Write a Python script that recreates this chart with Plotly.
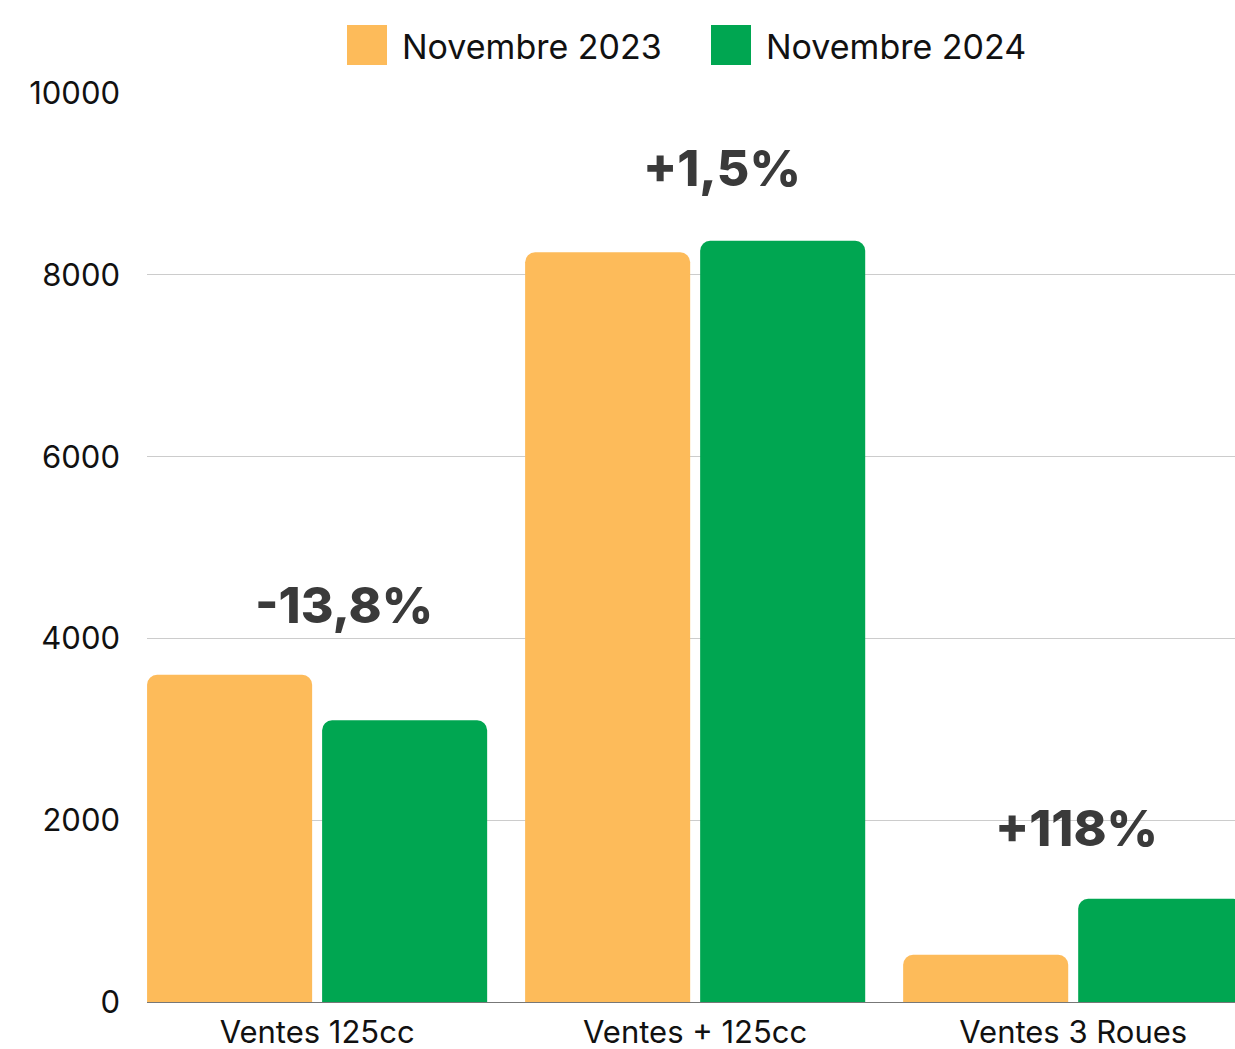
import plotly.graph_objects as go

categories = ["Ventes 125cc", "Ventes + 125cc", "Ventes 3 Roues"]
series_names = ["Novembre 2023", "Novembre 2024"]
values_2023 = [3600, 8250, 520]
values_2024 = [3100, 8375, 1135]
changes = ["-13,8%", "+1,5%", "+118%"]
change_x = [0.07, 0.07, 0.01]
change_y = [4370, 9175, 1915]
colors = ["#FDBB5A", "#00A651"]
y_ticks = [0, 2000, 4000, 6000, 8000, 10000]
y_tick_labels = ["0", "2000", "4000", "6000", "8000", "10000"]

FONT = "Inter"

fig = go.Figure()
for name, vals, col in zip(series_names, [values_2023, values_2024], colors):
    fig.add_trace(go.Bar(x=list(range(len(categories))), y=vals, name=name,
                         marker=dict(color=col, cornerradius=10, line=dict(width=0)),
                         showlegend=False))

for i, (t, dx, yv) in enumerate(zip(changes, change_x, change_y)):
    fig.add_annotation(x=i + dx, y=yv, text=t, showarrow=False,
                       font=dict(family=FONT, size=50, color="#3a3a3a", weight=800),
                       xanchor="center", yanchor="middle")

# Custom legend (large square swatches), positions relative to plot area
W, H = 1088, 909
leg_x = [347, 711]
for name, col, lx in zip(series_names, colors, leg_x):
    fig.add_shape(type="rect", xref="paper", yref="paper",
                  x0=(lx - 147) / W, x1=(lx + 40 - 147) / W,
                  y0=(1002 - 65) / H, y1=(1002 - 25) / H,
                  fillcolor=col, line=dict(width=0), layer="above")
    fig.add_annotation(xref="paper", yref="paper",
                       x=(lx + 53 - 147) / W, y=(1002 - 46) / H,
                       text=name, showarrow=False, xanchor="left", yanchor="middle",
                       font=dict(family=FONT, size=34, color="#111111"))

fig.update_layout(
    width=1235, height=1049,
    margin=dict(l=147, r=0, t=93, b=47, autoexpand=False),
    paper_bgcolor="white", plot_bgcolor="white",
    barmode="group", bargap=0.074, bargroupgap=0.057,
    font=dict(family=FONT, size=30, color="#111111"),
    showlegend=False,
)
fig.update_xaxes(range=[-0.45, 2.428], tickmode="array",
                 tickvals=list(range(len(categories))), ticktext=categories,
                 showgrid=False, showline=True, linecolor="#777777", linewidth=1,
                 ticks="", tickfont=dict(size=31, family=FONT, color="#111111"),
                 ticklabelstandoff=3, automargin=False)
fig.update_yaxes(range=[0, 10002], tickmode="array", tickvals=y_ticks,
                 ticktext=y_tick_labels, showgrid=True,
                 gridcolor="#cccccc", gridwidth=1, zeroline=False,
                 showline=False, ticks="",
                 tickfont=dict(size=31, family=FONT, color="#111111"),
                 ticklabelstandoff=26, automargin=False)

fig.write_html("out.html",
               config={"displayModeBar": False},
               post_script="document.body.style.margin='0';document.body.style.overflow='hidden';")
